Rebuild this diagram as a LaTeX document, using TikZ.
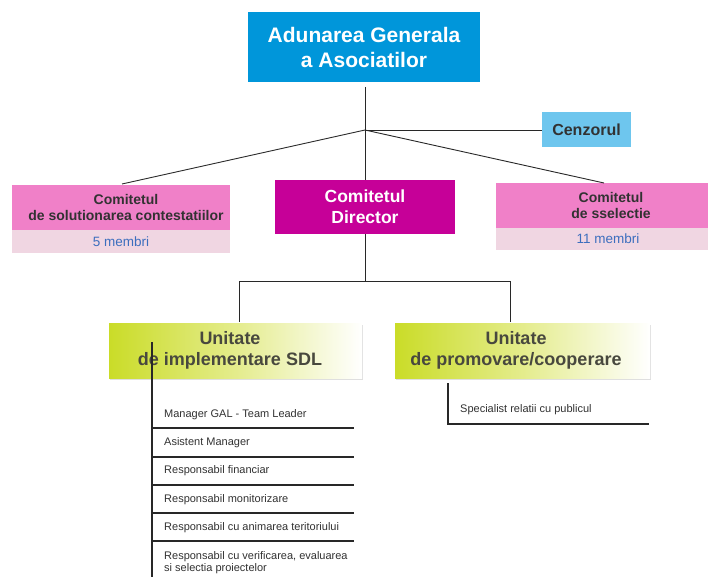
\documentclass[tikz,border=0pt]{standalone}
\usepackage{fontspec}
\setmainfont{Liberation Sans}
\usetikzlibrary{shadows,calc}
\definecolor{topblue}{RGB}{0,150,218}
\definecolor{cenz}{RGB}{110,198,238}
\definecolor{director}{RGB}{198,0,152}
\definecolor{pinkbox}{RGB}{240,128,200}
\definecolor{pinkstrip}{RGB}{240,214,226}
\definecolor{lime}{RGB}{202,220,40}
\definecolor{limemid}{RGB}{228,236,140}
\definecolor{txtdark}{RGB}{50,50,50}
\definecolor{txtgreen}{RGB}{72,72,62}
\definecolor{membri}{RGB}{60,110,190}
\definecolor{linec}{RGB}{40,40,40}
\tikzset{
  orgbox/.style={rectangle, inner sep=0pt, align=center, font=\bfseries},
  unitbox/.style={orgbox, left color=lime, right color=white, middle color=limemid,
     drop shadow={shadow xshift=1pt, shadow yshift=-1.5pt, opacity=0.25},
     text=txtgreen, font=\bfseries\fontsize{18}{21}\selectfont},
  conn/.style={draw=linec, line width=0.9pt},
  listline/.style={draw=linec, line width=1.1pt},
  item/.style={anchor=west, inner sep=0pt, text=txtdark, font=\fontsize{11}{12.5}\selectfont, align=left},
}
\begin{document}
\begin{tikzpicture}[x=1pt,y=-1pt]
\useasboundingbox[fill=white] (0,0) rectangle (708,577);

% top
\node[orgbox, fill=topblue, text=white, minimum width=232pt, minimum height=70pt,
  font=\bfseries\fontsize{21}{25}\selectfont] (ag) at (364,47) {Adunarea Generala\\a Asociatilor};
\coordinate (agb) at (365,87);
\coordinate (hub) at (365,130);

% cenzorul
\node[orgbox, fill=cenz, text=txtdark, minimum width=89pt, minimum height=35pt,
  font=\bfseries\fontsize{16}{19}\selectfont] (cz) at (586.5,130) {Cenzorul};

% director
\node[orgbox, fill=director, text=white, minimum width=180pt, minimum height=54pt,
  font=\bfseries\fontsize{17.5}{21}\selectfont] (dir) at (365,207) {Comitetul\\Director};

% left committee
\node[orgbox, fill=pinkbox, minimum width=218pt, minimum height=45pt] (lc) at (121,207.5) {};
\node[orgbox, text=txtdark, font=\bfseries\fontsize{14}{16}\selectfont] (lct) at (126,207.5) {Comitetul\\de solutionarea contestatiilor};
\node[orgbox, fill=pinkstrip, minimum width=218pt, minimum height=23pt] (ls) at (121,241.5) {};
\node[inner sep=0pt, text=membri, font=\fontsize{13.5}{16}\selectfont] (lst) at (121,241.5) {5 membri};

% right committee
\node[orgbox, fill=pinkbox, minimum width=230pt, minimum height=45pt] (rc) at (611,205.5) {};
\node[orgbox, text=txtdark, font=\bfseries\fontsize{14}{16}\selectfont] (rct) at (611,205.5) {Comitetul\\de sselectie};
\node[orgbox, fill=pinkstrip, minimum width=230pt, minimum height=22pt] (rs) at (611,239) {};
\node[inner sep=0pt, text=membri, font=\fontsize{13.5}{16}\selectfont] (rst) at (608,239) {11 membri};

% connectors top
\draw[conn] (agb) -- (hub);
\draw[conn] (hub) -- (cz.west);
\draw[conn] (hub) -- (122,184);
\draw[conn] (hub) -- (604,183);
\draw[conn] (hub) -- (dir.north);

% unit boxes
\node[unitbox, minimum width=253pt, minimum height=55pt] (u1) at (235.5,350.5) {};
\node[orgbox, text=txtgreen, font=\bfseries\fontsize{18}{21}\selectfont] (u1t) at (230,350.5) {Unitate\\de implementare SDL};
\node[unitbox, minimum width=255pt, minimum height=55pt] (u2) at (522.5,350.5) {};
\node[orgbox, text=txtgreen, font=\bfseries\fontsize{18}{21}\selectfont] (u2t) at (516,350.5) {Unitate\\de promovare/cooperare};

\coordinate (dj) at (365,281);
\coordinate (j1) at (239,281);
\coordinate (j2) at (510,281);
\draw[conn] (dir.south) -- (dj);
\draw[conn] (j1) -- (j2);
\draw[conn] (j1) -- (239,322);
\draw[conn] (j2) -- (510,322);

% list for unit 1
\coordinate (l1top) at (152,342);
\coordinate (l1bot) at (152,578);
\draw[listline] (l1top) -- (l1bot);
\foreach \yy in {428,457,485,513,541} {
  \draw[listline] (152,\yy) -- (354,\yy);
}
\node[item] (i1) at (164,415) {Manager GAL - Team Leader};
\node[item] (i2) at (164,443) {Asistent Manager};
\node[item] (i3) at (164,471) {Responsabil financiar};
\node[item] (i4) at (164,499.5) {Responsabil monitorizare};
\node[item] (i5) at (164,527.5) {Responsabil cu animarea teritoriului};
\node[item] (i6) at (164,562.5) {Responsabil cu verificarea, evaluarea\\si selectia proiectelor};

% list for unit 2
\coordinate (l2top) at (448,383);
\coordinate (l2c) at (448,424);
\coordinate (l2r) at (649,424);
\draw[listline] (l2top) -- (l2c) -- (l2r);
\node[item] (s1) at (460,410) {Specialist relatii cu publicul};
\end{tikzpicture}
\end{document}
